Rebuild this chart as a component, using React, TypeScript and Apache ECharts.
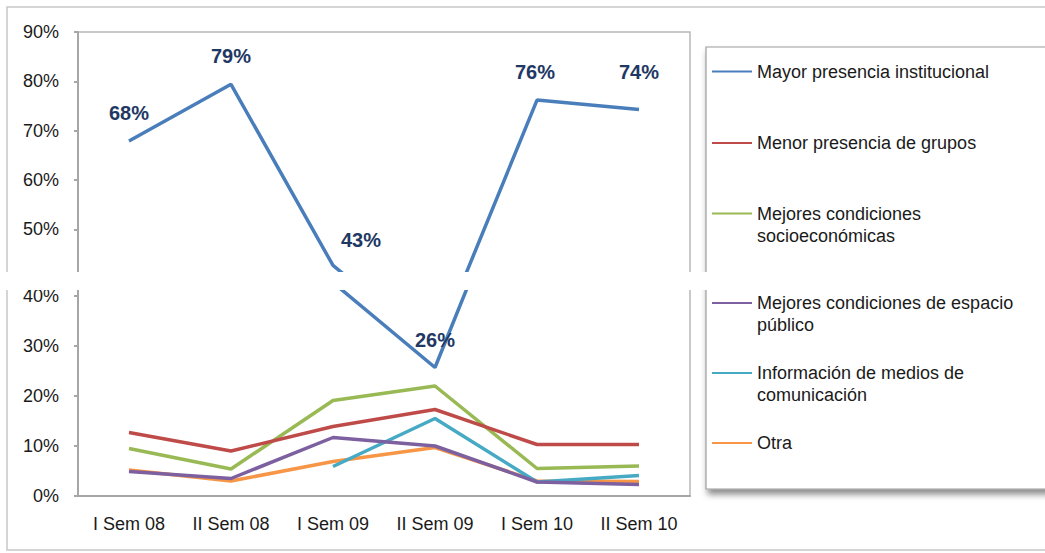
import React, { useEffect, useRef } from "react";
import * as echarts from "echarts";

const categories = ["I Sem 08", "II Sem 08", "I Sem 09", "II Sem 09", "I Sem 10", "II Sem 10"];

const seriesNames = [
  "Mayor presencia institucional",
  "Menor presencia de grupos",
  "Mejores condiciones socioeconómicas",
  "Mejores condiciones de espacio público",
  "Información de medios de comunicación",
  "Otra",
];

const legendLabels = [
  "Mayor presencia institucional",
  "Menor presencia de grupos",
  "Mejores condiciones\nsocioeconómicas",
  "Mejores condiciones de espacio\npúblico",
  "Información de medios de\ncomunicación",
  "Otra",
];

const mayorPresencia = [67.9, 79.4, 42.7, 25.7, 76.2, 74.3];
const menorPresencia = [12.7, 9.0, 13.9, 17.3, 10.3, 10.3];
const mejoresSocio = [9.5, 5.4, 19.1, 22.0, 5.5, 6.0];
const mejoresEspacio = [4.9, 3.5, 11.7, 10.0, 2.8, 2.3];
const informacionMedios = [null, null, 5.9, 15.5, 2.8, 4.1];
const otra = [5.2, 3.0, 6.9, 9.7, 3.0, 2.9];

const seriesValues = [mayorPresencia, menorPresencia, mejoresSocio, mejoresEspacio, informacionMedios, otra];
const colors = ["#4a7ebb", "#be4b48", "#98b954", "#7d60a0", "#46aac5", "#f79646"];

// label offsets for blue series data labels (styling, not data)
const labelOffsets = [[0, 0], [0, 0], [28, 3], [0, 0], [-2, 0], [0, -9]];

// legend text centers (layout)
const legendCenters = [71.5, 143, 213.5, 303, 373, 443];

const UPPER_MIN = 40;
const UPPER_MAX = 90;
const LOWER_MAX = 41.4;

const FONT = "'Liberation Sans', Arial, sans-serif";

export default function App() {
  const ref = useRef<HTMLDivElement>(null);

  useEffect(() => {
    if (!ref.current) return;
    const chart = echarts.init(ref.current, null, { renderer: "svg" });

    const makeSeries = (gridIdx: number) =>
      seriesValues.map((vals, si) => ({
        name: seriesNames[si],
        type: "line",
        xAxisIndex: gridIdx,
        yAxisIndex: gridIdx,
        data:
          si === 0
            ? vals.map((v, i) => ({
                value: v,
                label: {
                  show: gridIdx === 0 ? (v as number) >= LOWER_MAX : (v as number) < LOWER_MAX,
                  offset: labelOffsets[i],
                },
              }))
            : vals,
        symbol: "circle",
        symbolSize: 0,
        clip: true,
        connectNulls: false,
        lineStyle: { width: 3.5, color: colors[si] },
        itemStyle: { color: colors[si] },
        label:
          si === 0
            ? {
                show: true,
                position: "top",
                distance: 18,
                formatter: (p: any) => Math.round(p.value) + "%",
                fontSize: 20,
                fontWeight: "bold",
                fontFamily: FONT,
                color: "#1f3864",
              }
            : { show: false },
        emphasis: { disabled: true },
        z: 10 - si,
      }));

    const legends = seriesNames.map((name, i) => {
      const lines = legendLabels[i].includes("\n") ? 3 : 1;
      return {
        data: [name],
        orient: "vertical",
        left: 712,
        top: legendCenters[i] - (lines * 22) / 2,
        padding: 0,
        icon: "rect",
        itemWidth: 40,
        itemHeight: 2,
        formatter: () => (lines === 3 ? "\n" : "") + legendLabels[i],
        textStyle: { fontSize: 18, lineHeight: 22, color: "#1a1a1a", fontFamily: FONT },
      };
    });

    const axisLineStyle = { color: "#a6a6a6", width: 2 };

    chart.setOption({
      animation: false,
      backgroundColor: "#ffffff",
      color: colors,
      legend: legends,
      grid: [
        {
          left: 78,
          top: 32,
          width: 612,
          height: 246.75,
          show: true,
          borderColor: "#b8b8b8",
          borderWidth: 1.5,
        },
        {
          left: 78,
          top: 289,
          width: 612,
          height: 207,
          show: true,
          borderColor: "#b8b8b8",
          borderWidth: 1.5,
        },
      ],
      xAxis: [
        { type: "category", gridIndex: 0, data: categories, show: false },
        {
          type: "category",
          gridIndex: 1,
          data: categories,
          axisLine: { lineStyle: axisLineStyle },
          axisTick: { length: 6, lineStyle: axisLineStyle },
          axisLabel: { fontSize: 18, color: "#1a1a1a", fontFamily: FONT, margin: 19 },
        },
      ],
      yAxis: [
        {
          type: "value",
          gridIndex: 0,
          min: UPPER_MIN,
          max: UPPER_MAX,
          interval: 10,
          axisLine: { show: true, lineStyle: axisLineStyle },
          axisTick: { show: true, length: 4, lineStyle: axisLineStyle },
          splitLine: { show: false },
          axisLabel: {
            fontSize: 18,
            color: "#1a1a1a",
            fontFamily: FONT,
            margin: 19,
            showMinLabel: false,
            formatter: "{value}%",
          },
        },
        {
          type: "value",
          gridIndex: 1,
          min: 0,
          max: LOWER_MAX,
          interval: 10,
          axisLine: { show: true, lineStyle: axisLineStyle },
          axisTick: { show: true, length: 4, lineStyle: axisLineStyle },
          splitLine: { show: false },
          axisLabel: {
            fontSize: 18,
            color: "#1a1a1a",
            fontFamily: FONT,
            margin: 19,
            showMaxLabel: false,
            formatter: "{value}%",
          },
        },
      ],
      graphic: [
        {
          type: "rect",
          z: 0,
          shape: { x: 7, y: 7, width: 1100, height: 543 },
          style: { fill: "none", stroke: "#c8c8c8", lineWidth: 1.5 },
          silent: true,
        },
        {
          type: "rect",
          z: 1,
          shape: { x: 706, y: 47, width: 400, height: 442 },
          style: {
            fill: "#ffffff",
            stroke: "#9c9c9c",
            lineWidth: 1.2,
            shadowBlur: 6,
            shadowOffsetX: 2,
            shadowOffsetY: 5,
            shadowColor: "rgba(0,0,0,0.45)",
          },
          silent: true,
        },
        {
          type: "rect",
          z: 100,
          shape: { x: 0, y: 272, width: 1045, height: 18 },
          style: { fill: "#ffffff" },
          silent: true,
        },
      ],
      series: [...makeSeries(0), ...makeSeries(1)],
    });

    return () => chart.dispose();
  }, []);

  return (
    <div
      ref={ref}
      style={{ position: "absolute", left: 0, top: 0, width: 1045, height: 553, background: "#fff" }}
    />
  );
}
